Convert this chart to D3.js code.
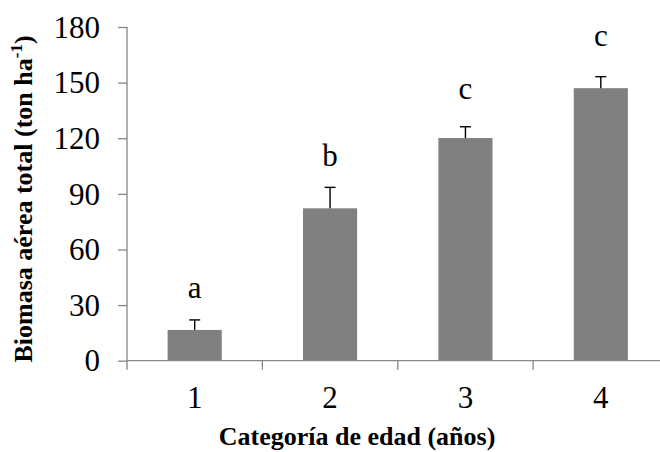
<!DOCTYPE html>
<html>
<head>
<meta charset="utf-8">
<script src="https://cdn.jsdelivr.net/npm/d3@7"></script>
<style>
  body { margin: 0; background: #fff; }
  text { font-family: "Liberation Serif", "Times New Roman", serif; }
</style>
</head>
<body>
<svg width="660" height="452"></svg>
<script>
// data
var categories = ["1", "2", "3", "4"];
var biomass = [16.6, 82.2, 120.1, 147.0];
var errors = [5.4, 11.3, 6.1, 6.2];
var letters = ["a", "b", "c", "c"];
var letterValues = [33.7, 105.2, 141.4, 170.0];
var yTicks = [0, 30, 60, 90, 120, 150, 180];

var svg = d3.select("svg"),
    margin = {top: 27, left: 127, bottom: 91},
    plotRight = 668.5,
    height = +svg.attr("height") - margin.bottom;

var x = d3.scaleBand().domain(categories)
    .range([margin.left, plotRight])
    .paddingInner(0.6).paddingOuter(0.3);
var y = d3.scaleLinear().domain([0, 180]).range([360.7, margin.top]);

var axisColor = "#868686";

// bars
svg.selectAll("rect.bar")
  .data(biomass)
  .enter().append("rect")
    .attr("class", "bar")
    .attr("x", function(d, i) { return x(categories[i]); })
    .attr("y", function(d) { return y(d); })
    .attr("width", x.bandwidth())
    .attr("height", function(d) { return y(0) - y(d); })
    .attr("fill", "#808080");

// error bars (upper only)
var eb = svg.selectAll("g.err")
  .data(biomass)
  .enter().append("g")
    .attr("class", "err")
    .attr("stroke", "#000")
    .attr("stroke-width", 1.4);
eb.append("line")
    .attr("x1", function(d, i) { return x(categories[i]) + x.bandwidth() / 2; })
    .attr("x2", function(d, i) { return x(categories[i]) + x.bandwidth() / 2; })
    .attr("y1", function(d) { return y(d); })
    .attr("y2", function(d, i) { return y(d + errors[i]); });
eb.append("line")
    .attr("x1", function(d, i) { return x(categories[i]) + x.bandwidth() / 2 - 5.5; })
    .attr("x2", function(d, i) { return x(categories[i]) + x.bandwidth() / 2 + 5.5; })
    .attr("y1", function(d, i) { return y(d + errors[i]); })
    .attr("y2", function(d, i) { return y(d + errors[i]); });

// significance letters
svg.selectAll("text.letter")
  .data(letters)
  .enter().append("text")
    .attr("class", "letter")
    .attr("x", function(d, i) { return x(categories[i]) + x.bandwidth() / 2; })
    .attr("y", function(d, i) { return y(letterValues[i]); })
    .attr("text-anchor", "middle")
    .style("font-size", "31px")
    .text(function(d) { return d; });

// y axis
var yAxis = svg.append("g")
    .attr("transform", "translate(" + margin.left + ",0)")
    .call(d3.axisLeft(y).tickValues(yTicks).tickSize(9).tickPadding(18));
yAxis.select(".domain").attr("stroke", axisColor).attr("stroke-width", 1.3)
    .attr("d", "M0," + y(180) + "V" + y(0));
yAxis.selectAll(".tick line").attr("stroke", axisColor).attr("stroke-width", 1.3);
yAxis.selectAll(".tick text")
    .style("font-size", "31px")
    .attr("fill", "#000")
    .attr("dy", "0.33em");

// x axis: line, boundary ticks, centered labels
var xg = svg.append("g");
xg.append("line")
    .attr("x1", margin.left).attr("x2", plotRight)
    .attr("y1", y(0)).attr("y2", y(0))
    .attr("stroke", axisColor).attr("stroke-width", 1.3);
var bounds = categories.map(function(c) { return x(c) - x.step() * x.paddingOuter(); });
bounds.push(plotRight);
xg.selectAll("line.xtick")
  .data(bounds)
  .enter().append("line")
    .attr("class", "xtick")
    .attr("x1", function(d) { return d; }).attr("x2", function(d) { return d; })
    .attr("y1", y(0)).attr("y2", y(0) + 9)
    .attr("stroke", axisColor).attr("stroke-width", 1.3);
xg.selectAll("text.xlab")
  .data(categories)
  .enter().append("text")
    .attr("class", "xlab")
    .attr("x", function(d) { return x(d) + x.bandwidth() / 2; })
    .attr("y", 407.5)
    .attr("text-anchor", "middle")
    .style("font-size", "31px")
    .text(function(d) { return d; });

// axis titles
svg.append("text")
    .attr("x", 357)
    .attr("y", 445)
    .attr("text-anchor", "middle")
    .style("font-size", "26px")
    .attr("font-weight", "bold")
    .text("Categoría de edad (años)");

var yt = svg.append("text")
    .attr("transform", "translate(32,199) rotate(-90)")
    .attr("text-anchor", "middle")
    .style("font-size", "26px")
    .attr("font-weight", "bold");
yt.append("tspan").text("Biomasa aérea total (ton ha");
yt.append("tspan").style("font-size", "17px").attr("dy", -10).text("-1");
yt.append("tspan").attr("dy", 10).text(")");
</script>
</body>
</html>
